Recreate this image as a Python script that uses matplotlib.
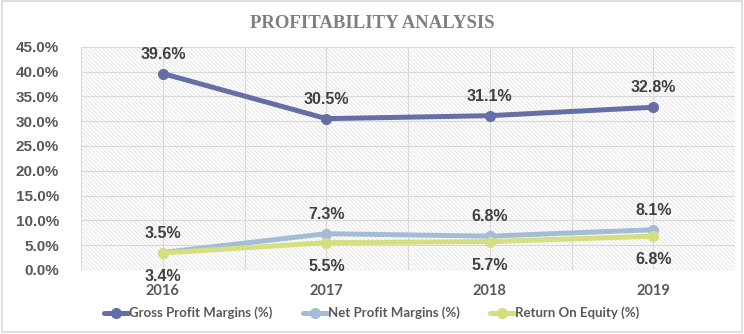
import matplotlib
matplotlib.use("Agg")
import matplotlib.pyplot as plt
from matplotlib.patches import Rectangle
from matplotlib.ticker import FuncFormatter

years = ["2016", "2017", "2018", "2019"]
gross_margin = [39.6, 30.5, 31.1, 32.8]
net_margin = [3.5, 7.3, 6.8, 8.1]
roe = [3.4, 5.5, 5.7, 6.8]

series = [
    ("Gross Profit Margins (%)", gross_margin, "#666ea6", 14),
    ("Net Profit Margins (%)", net_margin, "#a5bcd6", 14),
    ("Return On Equity (%)", roe, "#d5df7f", -17),
]

plt.rcParams["hatch.color"] = "#dcdcdc"
plt.rcParams["hatch.linewidth"] = 0.5

fig = plt.figure(figsize=(7.44, 3.34), dpi=100)
fig.patches.append(Rectangle((0.003, 0.006), 0.994, 0.99, transform=fig.transFigure,
                             fill=False, edgecolor="#d9d9d9", linewidth=1.2))
ax = fig.add_axes([0.109, 0.192, 0.879, 0.668])

# hatched plot area
ax.add_patch(Rectangle((0, 0), 1, 1, transform=ax.transAxes, facecolor="white",
                       edgecolor="#dcdcdc", hatch="\\\\\\\\\\\\\\\\", linewidth=0, zorder=0))

x = list(range(len(years)))
for name, vals, col, off in series:
    ax.plot(x, vals, color=col, lw=3.6, marker="o", ms=7, label=name,
            solid_capstyle="round", zorder=3)
    for xi, v in zip(x, vals):
        ax.annotate(f"{v:.1f}%", (xi, v), xytext=(0, off), textcoords="offset points",
                    ha="center", va="center", fontsize=11.5, fontweight="bold",
                    color="#404040", family="Liberation Sans", zorder=5)

ax.set_xlim(-0.5, 3.5)
ax.set_ylim(0, 45)
ax.set_yticks(range(0, 46, 5))
ax.yaxis.set_major_formatter(FuncFormatter(lambda v, p: f"{v:.1f}%"))
ax.set_xticks(x)
ax.set_xticklabels(years)

for v in range(5, 46, 5):
    ax.axhline(v, color="#d9d9d9", lw=0.8, zorder=1)
for v in [-0.5, 0, 0.5, 1, 1.5, 2, 2.5, 3, 3.5]:
    ax.axvline(v, color="#d9d9d9", lw=0.8, zorder=1)

for s in ax.spines.values():
    s.set_visible(False)
ax.axhline(0, color="#d9d9d9", lw=1.0, zorder=1)
ax.tick_params(length=0)
ax.tick_params(axis="y", pad=16)
ax.tick_params(axis="x", pad=10)
for t in ax.get_yticklabels():
    t.set_fontfamily("Liberation Sans")
    t.set_fontweight("bold")
    t.set_fontsize(11)
    t.set_color("#595959")
for t in ax.get_xticklabels():
    t.set_fontfamily("Lato")
    t.set_fontweight("bold")
    t.set_fontsize(10.5)
    t.set_color("#595959")

fig.text(0.5, 0.931, "PROFITABILITY ANALYSIS", ha="center", va="center",
         fontsize=13.5, fontweight="bold", color="#7f7f7f", family="Liberation Serif")

leg = fig.legend(loc="center", bbox_to_anchor=(0.5, 0.063), ncol=3, frameon=False,
                 handlelength=1.8, columnspacing=2.3, handletextpad=0.1,
                 prop={"family": "Lato", "size": 9.5, "weight": "bold"})
for t in leg.get_texts():
    t.set_color("#595959")

fig.savefig("out.png", dpi=100)
